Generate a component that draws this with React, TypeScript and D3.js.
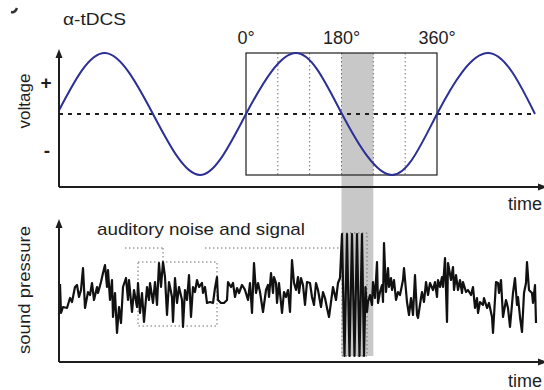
import React from "react";
import * as d3 from "d3";

// ---------- data ----------
// α-tDCS voltage: key points (time units, normalised voltage)
const sineTime = [0, 46, 94, 141, 187, 237, 283, 333, 378, 429, 476];
const sineVolt = [0.06, 1, 0, -1, 0, 1, 0, -1, 0, 1, 0];

// phase window of one cycle (time units) and phase ticks
const cycleStart = 187;
const cycleEnd = 378;
const phaseLabels = ["0°", "180°", "360°"];
const phaseLabelDeg = [0, 180, 360];
const phaseGridDeg = [60, 120, 180, 240, 300];
const highlightDeg = [180, 240];

// sound pressure: auditory noise, signal burst, noise
const soundTime = [
  1, 2, 4, 8, 11, 13, 16, 18, 20, 22, 24, 26, 29, 31, 33, 35, 38, 39, 42, 44, 46, 48, 49, 51, 53, 54, 56, 58, 60, 62, 64, 67, 69, 70, 73, 75, 78, 79, 81, 83, 85, 88, 90,
  91, 94, 96, 98, 100, 102, 104, 106, 108, 110, 113, 114, 116, 118, 120, 123, 124, 126, 128, 130, 132, 134, 136, 138, 140, 143, 144, 146, 148, 151, 154, 156, 158, 159, 162, 165, 168, 169, 172, 174, 176, 178, 180, 183, 185,
  186, 189, 191, 193, 195, 197, 199, 201, 204, 207, 209, 210, 212, 214, 215, 217, 218, 220, 223, 225, 227, 229, 231, 233, 235, 237, 239, 240, 242, 244, 246, 248, 251, 253, 255, 257, 259, 262, 264, 266, 268, 270, 272, 274, 277, 279, 281,
  283, 285.5, 288, 290.5, 293, 295.5, 298, 300.5, 303, 305,
  306.5, 308, 309, 311, 313, 314, 316, 318, 319, 321, 323, 324, 325, 327, 329, 330, 332, 333, 335, 337, 339, 341, 344, 345, 348, 350, 352, 354, 356, 358, 359, 362, 363, 365, 367, 369,
  371, 374, 376, 378, 379, 381, 383, 384, 386, 388, 389, 392, 394, 395, 397, 399, 401, 403, 404, 407, 409, 412, 414, 416, 418, 419, 421, 424, 425, 428, 430, 433, 434, 437, 439, 440, 442, 444, 447, 449, 451, 454, 456, 458, 459, 461, 463, 465, 467, 468, 470, 473, 474, 476, 477,
];
const soundPressure = [
  11, -18, -12, -13, -3, -7, 8, 10, -2, 5, 27, -13, 3, 0, 12, -5, 8, 2, 13, 22, 30, 8, 25, -5, 15, -22, 2, -38, -12, -28, 8, 17, -5, 15, -17, 5, -12, 12, -18, 2, -27, 8, -5,
  12, -8, 13, -10, 32, 8, 33, 18, -20, 13, -2, -27, 17, -8, 8, -5, -32, 5, -5, 20, -22, 8, 3, 15, 8, 12, 2, 8, -8, -7, -8, 7, 18, -5, -8, -8, -5, 13, 8, 12, -2, 7, 2, 10, 7,
  5, -5, 12, -18, 32, 2, 12, 3, -17, 5, 10, -2, 22, 2, 18, 12, -8, 12, -18, 3, -2, 5, -17, 35, 12, 5, 18, 2, 17, 10, -10, 13, 12, -2, -10, 12, 5, -12, 3, -3, -13, -22, -7, 8, -5, 12, 17,
  61, -61, 61, -61, 61, -61, 61, -61, 61, -61,
  8, -17, -7, 0, -10, 13, -3, 33, -8, 3, 10, -7, 52, 3, 27, 8, 17, 5, 15, -5, 3, 0, 15, 27, -7, -20, -3, -20, 20, -20, -23, -3, 3, -7, 13, 0,
  12, 5, 13, -2, 15, 8, 18, 8, 37, -27, 32, 15, 28, 5, 20, 5, 15, 2, 13, 3, 5, 0, 8, -13, -3, -18, -7, -10, -3, -13, -8, -22, -38, 13, 12, 2, 15, -22, -5, -13, -32, 2, 17, -10, -2, -22, -37, 2, 12, 33, 5, 2, -8, 10, -28,
];

// signal window (time) and its amplitude; noise excerpt window
const signalWindow = [283, 308];
const signalRange = [-61, 61];
const noiseWindow = [79, 158];
const noiseRange = [-31, 33];
const calloutLevel = 47;
const calloutLeft = [66, 104];
const calloutRight = [146, 283];

// ---------- layout ----------
const W = 544;
const H = 390;
const FONT = "'Liberation Sans', Arial, Helvetica, sans-serif";
const INK = "#1e1e1e";
const BLUE = "#2d2f94";
const GRID = "#707070";

export default function App() {
  const x = d3.scaleLinear().domain([0, 485]).range([59, 544]);
  const v = d3.scaleLinear().domain([-1, 1]).range([175, 53]);
  const p = d3.scaleLinear().domain([-61, 61]).range([356, 234]);
  const phase = d3.scaleLinear().domain([0, 360]).range([x(cycleStart), x(cycleEnd)]);

  const topAxisY = 187;
  const botAxisY = 362;
  const axisX = x(0);

  const sinePts = sineTime.map((t, i) => [t, sineVolt[i]] as [number, number]);
  const sineLine = d3
    .line<[number, number]>()
    .x((d) => x(d[0]))
    .y((d) => v(d[1]))
    .curve(d3.curveNatural);

  const soundPts = soundTime.map((t, i) => [t, soundPressure[i]] as [number, number]);
  const soundLine = d3
    .line<[number, number]>()
    .x((d) => x(d[0]))
    .y((d) => p(d[1]))
    .curve(d3.curveLinear);

  const arrowUp = (cx: number, tipY: number) =>
    `M${cx},${tipY} L${cx - 3.5},${tipY + 9} L${cx + 3.5},${tipY + 9} Z`;
  const arrowRight = (tipX: number, cy: number) =>
    `M${tipX},${cy} L${tipX - 9},${cy - 3.5} L${tipX - 9},${cy + 3.5} Z`;

  return (
    <svg
      width={W}
      height={H}
      viewBox={`0 0 ${W} ${H}`}
      style={{ position: "absolute", left: 0, top: 0, background: "#fff" }}
      fontFamily={FONT}
    >
      <rect x={0} y={0} width={W} height={H} fill="#fff" />

      {/* cropped panel mark */}
      <path d="M11,12 Q15,13 17,8" fill="none" stroke="#333" strokeWidth={2.5} />

      {/* highlighted phase band spanning both panels */}
      <rect
        x={phase(highlightDeg[0])}
        y={v(1)}
        width={phase(highlightDeg[1]) - phase(highlightDeg[0])}
        height={p(signalRange[0]) - v(1)}
        fill="#c8c8c8"
      />

      {/* ---------- top panel ---------- */}
      <line
        x1={x(0)}
        x2={x(sineTime[sineTime.length - 1])}
        y1={v(0)}
        y2={v(0)}
        stroke={INK}
        strokeWidth={2}
        strokeDasharray="4,5"
      />
      {phaseGridDeg.map((d) => (
        <line
          key={d}
          x1={phase(d)}
          x2={phase(d)}
          y1={v(1)}
          y2={v(-1)}
          stroke={GRID}
          strokeWidth={1}
          strokeDasharray="1.5,2.5"
        />
      ))}
      <rect
        x={phase(0)}
        y={v(1)}
        width={phase(360) - phase(0)}
        height={v(-1) - v(1)}
        fill="none"
        stroke={INK}
        strokeWidth={1.2}
      />
      <path d={sineLine(sinePts) || ""} fill="none" stroke={BLUE} strokeWidth={2} />

      {phaseLabels.map((s, i) => (
        <text key={s} x={phase(phaseLabelDeg[i])} y={44} fontSize={18} textAnchor="middle" fill={INK}>
          {s}
        </text>
      ))}

      {/* top axes */}
      <line x1={axisX} x2={axisX} y1={topAxisY} y2={56} stroke={INK} strokeWidth={2} />
      <path d={arrowUp(axisX, 49)} fill={INK} />
      <line x1={axisX} x2={540} y1={topAxisY} y2={topAxisY} stroke={INK} strokeWidth={2} />
      <path d={arrowRight(547, topAxisY)} fill={INK} />

      <text x={63} y={25} fontSize={17} textLength={63} lengthAdjust="spacingAndGlyphs" fill={INK}>
        α-tDCS
      </text>
      <text x={30} y={101} fontSize={17} textAnchor="middle" transform="rotate(-90,30,101)" fill={INK}>
        voltage
      </text>
      <text x={46} y={89} fontSize={19} fontWeight="bold" textAnchor="middle" fill={INK}>
        +
      </text>
      <text x={47} y={157} fontSize={19} fontWeight="bold" textAnchor="middle" fill={INK}>
        -
      </text>
      <text x={508} y={210} fontSize={18} fill={INK}>
        time
      </text>

      {/* ---------- bottom panel ---------- */}
      {/* callout dotted lines */}
      <g fill="none" stroke={GRID} strokeWidth={1} strokeDasharray="1.5,2.5">
        <line x1={x(calloutLeft[0])} x2={x(calloutLeft[1])} y1={p(calloutLevel)} y2={p(calloutLevel)} />
        <line x1={x(calloutLeft[1])} x2={x(calloutLeft[1])} y1={p(calloutLevel)} y2={p(noiseRange[1])} />
        <line x1={x(calloutRight[0])} x2={x(calloutRight[1])} y1={p(calloutLevel)} y2={p(calloutLevel)} />
        <rect
          x={x(noiseWindow[0])}
          y={p(noiseRange[1])}
          width={x(noiseWindow[1]) - x(noiseWindow[0])}
          height={p(noiseRange[0]) - p(noiseRange[1])}
        />
        <rect
          x={x(signalWindow[0])}
          y={p(signalRange[1]) - 1}
          width={x(signalWindow[1]) - x(signalWindow[0])}
          height={p(signalRange[0]) - p(signalRange[1]) + 1}
        />
      </g>

      <path
        d={soundLine(soundPts) || ""}
        fill="none"
        stroke="#111"
        strokeWidth={2.2}
        strokeLinejoin="round"
      />

      {/* bottom axes */}
      <line x1={axisX} x2={axisX} y1={botAxisY} y2={226} stroke={INK} strokeWidth={2} />
      <path d={arrowUp(axisX, 219)} fill={INK} />
      <line x1={axisX} x2={540} y1={botAxisY} y2={botAxisY} stroke={INK} strokeWidth={2} />
      <path d={arrowRight(547, botAxisY)} fill={INK} />

      <text x={97} y={235} fontSize={17} textLength={208} lengthAdjust="spacingAndGlyphs" fill={INK}>
        auditory noise and signal
      </text>
      <text
        x={30}
        y={290}
        fontSize={17}
        textAnchor="middle"
        textLength={128}
        lengthAdjust="spacingAndGlyphs"
        transform="rotate(-90,30,290)"
        fill={INK}
      >
        sound pressure
      </text>
      <text x={508} y={387} fontSize={18} fill={INK}>
        time
      </text>
    </svg>
  );
}
